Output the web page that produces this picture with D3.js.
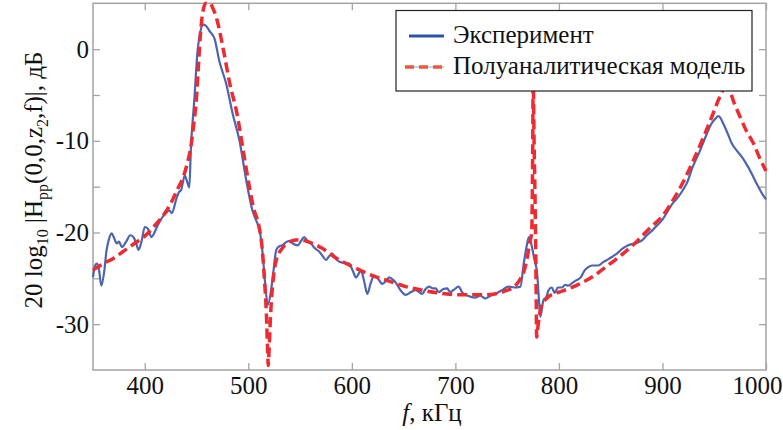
<!DOCTYPE html>
<html><head><meta charset="utf-8">
<script src="https://cdn.jsdelivr.net/npm/d3@7"></script>
<style>
html,body{margin:0;padding:0;background:#fff;}
svg{display:block;}
text{font-family:"Liberation Serif","Times New Roman",serif;fill:#111;}
</style></head>
<body>
<svg id="chart" width="783" height="430"></svg>
<script>
// ---- data ----
const xTicks = [400, 500, 600, 700, 800, 900, 1000];
const yTicks = [-30, -25, -20, -15, -10, -5, 0];
const legendLabels = ["Эксперимент", "Полуаналитическая модель"];

const expF = [350,352,354,356,358,361,363,365,368,370,373,375,378,382,386,389,392,394,397,400,403,406.5,409,411,416,421,424,426,430.6,433,435,438.7,441,443,444.6,447.8,451,453.5,455.8,459.5,463,467.5,472,478.7,485,491.5,498,504,508,511,514,516,518.8,522,524.5,527,530,533,536,539.7,543,547.7,551,554,557,560.6,564,568.6,572,575,578,581,584,588,592,597.5,601,604,607,608.7,612,615,618,621.5,625,629.5,633,636,639,642,647,652,657,661.6,665,668,671,674.5,678,681,684,688,692,695,699,703,707,712,719,724,729,734,738.5,745,751.5,757,762.8,766,769,771,774,776,779,780.5,782,785,788,790,793,796,799,803,806,809,813,817,821,825,828,832,838,843,848,852,856,861,867,873,880,885,890,895,900,905,910,914,919,924,929,935,943,947,951,954,956,959,963,967,972,977,983,988,993,997,1000];
const expDb = [-24.9,-23.6,-23.4,-24.2,-25.8,-24.1,-22.0,-20.9,-20.1,-20.5,-21.2,-21.0,-21.6,-21.0,-20.3,-20.5,-21.3,-21.9,-20.9,-19.4,-19.6,-20.5,-20.1,-19.6,-18.5,-17.8,-17.6,-17.9,-16.3,-15.6,-15.4,-13.8,-14.5,-15.1,-10.7,-5.6,-0.2,1.8,2.7,2.5,1.9,1.1,-1.3,-3.8,-7.1,-10.0,-14.3,-17.6,-18.8,-19.8,-22.5,-25.2,-27.9,-26.3,-24.0,-21.9,-21.5,-21.4,-21.1,-20.9,-21.2,-21.4,-20.9,-20.5,-20.9,-21.2,-21.7,-22.1,-22.6,-23.0,-22.6,-22.3,-22.8,-23.2,-23.3,-23.4,-24.2,-24.9,-24.4,-24.1,-25.4,-26.7,-25.6,-24.7,-25.0,-25.6,-25.3,-24.9,-25.1,-25.4,-26.3,-26.8,-26.5,-26.3,-26.5,-26.7,-26.2,-25.9,-26.1,-26.1,-26.5,-26.2,-26.1,-26.5,-26.2,-25.9,-26.6,-26.9,-27.1,-26.9,-27.2,-26.9,-26.7,-26.3,-25.9,-26.0,-25.9,-23.4,-21.4,-20.5,-21.6,-22.8,-24.5,-27.0,-29.2,-27.4,-27.0,-26.3,-26.0,-26.6,-26.0,-26.0,-25.7,-25.8,-25.5,-25.2,-24.9,-24.1,-23.8,-23.6,-23.6,-23.2,-22.9,-22.6,-22.3,-21.8,-21.4,-21.2,-20.9,-20.3,-19.8,-19.2,-18.6,-17.7,-16.8,-16.3,-15.5,-14.5,-12.9,-11.4,-9.2,-8.2,-7.6,-7.3,-7.5,-8.2,-9.2,-10.3,-11.1,-11.8,-12.9,-14.0,-15.1,-15.9,-16.4];

const modF = [350,360,370,380,390,400,410,420,427,432,437,441,444,447,450,452,454,456,459,463,466,469.5,476,482,489,495,501,505,510,513,515.5,517.5,518.7,519.3,520,521.5,524,527,533,540,549,560,571,585,604,620,636,652,668,684,706,725,738,750,757,762,766,769,772,773.7,774.6,775.2,776,776.9,777.8,778.5,780,783,785,790,798,808,820,833,846,860,875,888,900,910,920,930,940,949,955,960,964,969,975,981,988,994,1000];
const modDb = [-24.1,-23.4,-22.8,-22.0,-21.2,-20.4,-19.2,-17.8,-16.4,-15.2,-14.0,-12.5,-11.0,-8.5,-5.2,-1.5,2.0,4.0,5.0,5.0,4.4,3.3,-0.1,-3.7,-7.0,-11.0,-15.0,-17.3,-19.2,-21.3,-25.0,-29.0,-33.0,-34.5,-33.0,-29.0,-25.2,-23.0,-21.7,-21.0,-20.8,-21.1,-21.7,-22.8,-23.9,-24.7,-25.3,-25.9,-26.3,-26.6,-26.8,-26.8,-26.7,-26.3,-25.9,-25.2,-24.3,-23.0,-21.0,-20.0,-12.0,-3.0,-10.0,-16.0,-24.0,-31.4,-30.0,-28.0,-27.6,-27.0,-26.6,-26.2,-25.6,-24.8,-23.7,-22.5,-21.0,-19.5,-18.2,-16.5,-14.5,-12.1,-9.5,-7.0,-5.3,-4.3,-4.4,-5.8,-7.4,-8.9,-10.3,-11.9,-13.3];

// ---- layout ----
const svg = d3.select("#chart");
const L = 93, R = 766, T = 3.3, B = 370;
const x = d3.scaleLinear().domain([350, 1000]).range([L, R]);
const y = d3.scaleLinear().domain([-35, 5]).range([B, T]);
const frameColor = "#a3a3a3";

// axes
function styleAxis(g){
  g.select(".domain").remove();
  g.selectAll(".tick line").attr("stroke", frameColor).attr("stroke-width", 1.3);
  g.selectAll("text").attr("font-size", 25).attr("fill", "#111")
    .attr("font-family", '"Liberation Serif","Times New Roman",serif');
}
svg.append("g").attr("transform", `translate(0,${B})`)
  .call(d3.axisBottom(x).tickValues(xTicks).tickSizeInner(-7).tickSizeOuter(0).tickPadding(6).tickFormat(d3.format("d")))
  .call(styleAxis)
  .call(g => g.selectAll("text").filter(d => d === 1000).attr("dx", -9));
svg.append("g").attr("transform", `translate(0,${T})`)
  .call(d3.axisTop(x).tickValues(xTicks).tickSizeInner(-7).tickSizeOuter(0).tickFormat(""))
  .call(styleAxis);
svg.append("g").attr("transform", `translate(${L},0)`)
  .call(d3.axisLeft(y).tickValues(yTicks).tickSizeInner(-7).tickSizeOuter(0).tickPadding(4)
    .tickFormat(d => d % 10 === 0 ? d3.format("d")(d).replace("−","-") : ""))
  .call(styleAxis);
svg.append("g").attr("transform", `translate(${R},0)`)
  .call(d3.axisRight(y).tickValues(yTicks).tickSizeInner(-7).tickSizeOuter(0).tickFormat(""))
  .call(styleAxis);

// frame
svg.append("rect").attr("x", L).attr("y", T).attr("width", R - L).attr("height", B - T)
  .attr("fill", "none").attr("stroke", frameColor).attr("stroke-width", 1.5);

// lines
const expData = expF.map((f, i) => [f, expDb[i]]);
const modData = modF.map((f, i) => [f, modDb[i]]);
const line = d3.line().x(d => x(d[0])).y(d => y(d[1])).curve(d3.curveMonotoneX);

svg.append("path").datum(expData).attr("d", line)
  .attr("fill", "none").attr("stroke", "#4a66b0").attr("stroke-width", 2.2).attr("stroke-linejoin", "round");
svg.append("path").datum(modData).attr("d", line)
  .attr("fill", "none").attr("stroke", "#ef2a30").attr("stroke-width", 3.5)
  .attr("stroke-dasharray", "10,5");

// legend
const lg = svg.append("g");
lg.append("rect").attr("x", 396).attr("y", 10.5).attr("width", 356).attr("height", 80.5)
  .attr("fill", "#fff").attr("stroke", "#222").attr("stroke-width", 1.2);
lg.append("line").attr("x1", 409).attr("x2", 444).attr("y1", 36).attr("y2", 36)
  .attr("stroke", "#2b53a3").attr("stroke-width", 3);
lg.append("line").attr("x1", 405).attr("x2", 444).attr("y1", 67).attr("y2", 67)
  .attr("stroke", "#8aa6d6").attr("stroke-width", 1);
lg.append("line").attr("x1", 405).attr("x2", 444).attr("y1", 67).attr("y2", 67)
  .attr("stroke", "#f0583a").attr("stroke-width", 3.5).attr("stroke-dasharray", "9,5");
lg.append("text").attr("x", 453).attr("y", 42.5).attr("font-size", 25).text(legendLabels[0]);
lg.append("text").attr("x", 453).attr("y", 73.5).attr("font-size", 25).text(legendLabels[1]);

// axis titles
const xt = svg.append("text").attr("x", 432).attr("y", 421).attr("text-anchor", "middle").attr("font-size", 25);
xt.append("tspan").attr("font-style", "italic").text("f");
xt.append("tspan").text(", кГц");

const yt = svg.append("text").attr("transform", "translate(42,180) rotate(-90)")
  .attr("text-anchor", "middle").attr("font-size", 25);
yt.append("tspan").text("20 log");
yt.append("tspan").attr("font-size", 16).attr("dy", 6).text("10");
yt.append("tspan").attr("dy", -6).text(" |H");
yt.append("tspan").attr("font-size", 16).attr("dy", 6).text("pp");
yt.append("tspan").attr("dy", -6).text("(0,0,z");
yt.append("tspan").attr("font-size", 16).attr("dy", 6).text("2");
yt.append("tspan").attr("dy", -6).text(",f)|, дБ");
</script>
</body></html>
